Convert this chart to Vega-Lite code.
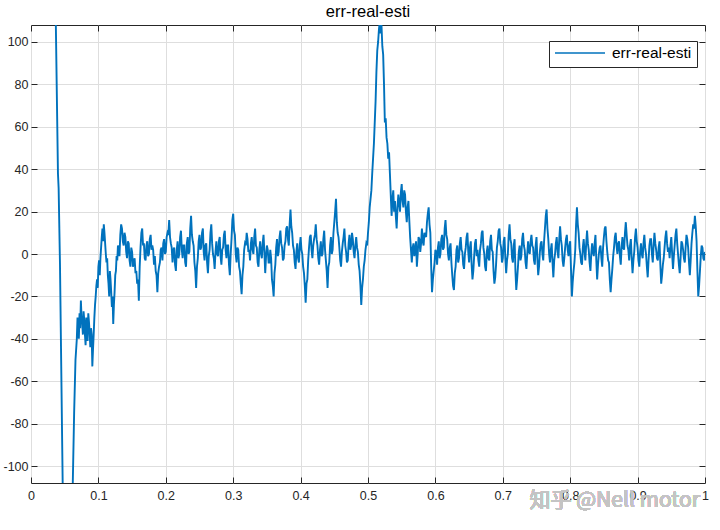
{
  "$schema": "https://vega.github.io/schema/vega-lite/v6.json",
  "autosize": {"type": "none"},
  "width": 674,
  "height": 458,
  "padding": {"left": 31, "top": 25, "right": 15, "bottom": 47},
  "background": "white",
  "title": {"text": "err-real-esti", "fontSize": 16.5, "fontWeight": "normal", "color": "#000000", "font": "Liberation Sans", "offset": 1},
  "config": {
    "font": "Liberation Sans",
    "view": {"stroke": "#262626", "strokeWidth": 1},
    "axis": {
      "domain": false,
      "tickColor": "#262626",
      "tickSize": -6,
      "labelColor": "#262626",
      "labelFontSize": 12.5,
      "labelFont": "Liberation Sans",
      "gridColor": "#dedede",
      "gridWidth": 1,
      "title": null
    }
  },
  "data": {"values": [
    {"x":0.0368,"y":109.5},{"x":0.04,"y":38},{"x":0.041,"y":31},{"x":0.043,"y":-5},{"x":0.047,"y":-108},{"x":0.0472,"y":-112},{"x":0.0618,"y":-112},{"x":0.062,"y":-108},{"x":0.064,"y":-75},{"x":0.066,"y":-50},{"x":0.068,"y":-40},{"x":0.069,"y":-30},{"x":0.07,"y":-34},{"x":0.071,"y":-40},{"x":0.072,"y":-28},{"x":0.073,"y":-35},{"x":0.074,"y":-22},{"x":0.075,"y":-30},{"x":0.076,"y":-33},{"x":0.077,"y":-38},{"x":0.078,"y":-27},{"x":0.079,"y":-31},{"x":0.08,"y":-38},{"x":0.081,"y":-43},{"x":0.082,"y":-30},{"x":0.083,"y":-35},{"x":0.084,"y":-41},{"x":0.085,"y":-28},{"x":0.086,"y":-32},{"x":0.087,"y":-37},{"x":0.088,"y":-44},{"x":0.089,"y":-35},{"x":0.09,"y":-38},{"x":0.091,"y":-53},{"x":0.092,"y":-45},{"x":0.093,"y":-38},{"x":0.094,"y":-30},{"x":0.095,"y":-24},{"x":0.096,"y":-20},{"x":0.097,"y":-15},{"x":0.098,"y":-12},{"x":0.099,"y":-16},{"x":0.1,"y":-6},{"x":0.101,"y":-3},{"x":0.102,"y":-10},{"x":0.103,"y":-2},{"x":0.104,"y":3},{"x":0.105,"y":8},{"x":0.106,"y":12},{"x":0.107,"y":6},{"x":0.108,"y":14},{"x":0.109,"y":10},{"x":0.11,"y":5},{"x":0.111,"y":0},{"x":0.112,"y":-4},{"x":0.113,"y":-2},{"x":0.114,"y":-10},{"x":0.115,"y":-14},{"x":0.116,"y":-20},{"x":0.117,"y":-8},{"x":0.118,"y":-12},{"x":0.119,"y":-18},{"x":0.12,"y":-25},{"x":0.121,"y":-20},{"x":0.122,"y":-33},{"x":0.123,"y":-24},{"x":0.124,"y":-18},{"x":0.125,"y":-10},{"x":0.126,"y":-8},{"x":0.127,"y":-1},{"x":0.128,"y":-3},{"x":0.129,"y":4},
    {"x":0.13,"y":2},{"x":0.13125,"y":-1},{"x":0.1325,"y":9},{"x":0.13375,"y":14},{"x":0.135,"y":12},{"x":0.13625,"y":6},{"x":0.1375,"y":4},{"x":0.13875,"y":10},{"x":0.14,"y":8},{"x":0.14125,"y":1},{"x":0.1425,"y":-2},{"x":0.14375,"y":6},{"x":0.145,"y":5},{"x":0.14625,"y":-3},{"x":0.1475,"y":-6},{"x":0.14875,"y":3},{"x":0.15,"y":1},{"x":0.15125,"y":-6},{"x":0.1525,"y":-4},{"x":0.15375,"y":-2},
    {"x":0.155,"y":-9},{"x":0.15625,"y":-8},{"x":0.1575,"y":-14},{"x":0.15875,"y":-12},{"x":0.16,"y":-22},{"x":0.16125,"y":-6},{"x":0.1625,"y":3},{"x":0.16375,"y":10},{"x":0.165,"y":12},{"x":0.16625,"y":4},{"x":0.1675,"y":5},{"x":0.16875,"y":-2},{"x":0.17,"y":-3},{"x":0.17125,"y":4},{"x":0.1725,"y":6},{"x":0.17375,"y":-1},{"x":0.175,"y":0},{"x":0.17625,"y":7},{"x":0.1775,"y":9},{"x":0.17875,"y":2},
    {"x":0.18,"y":4},{"x":0.18125,"y":2},{"x":0.1825,"y":-5},{"x":0.18375,"y":-1},{"x":0.185,"y":-8},{"x":0.18625,"y":-10},{"x":0.1875,"y":-18},{"x":0.18875,"y":-9},{"x":0.19,"y":-6},{"x":0.19125,"y":-4},{"x":0.1925,"y":2},{"x":0.19375,"y":3},{"x":0.195,"y":-3},{"x":0.19625,"y":5},{"x":0.1975,"y":7},{"x":0.19875,"y":0},{"x":0.2,"y":1},{"x":0.20125,"y":8},{"x":0.2025,"y":10},{"x":0.20375,"y":9},
    {"x":0.205,"y":16},{"x":0.20625,"y":8},{"x":0.2075,"y":5},{"x":0.20875,"y":3},{"x":0.21,"y":-4},{"x":0.21125,"y":2},{"x":0.2125,"y":3},{"x":0.21375,"y":-5},{"x":0.215,"y":-8},{"x":0.21625,"y":2},{"x":0.2175,"y":6},{"x":0.21875,"y":-2},{"x":0.22,"y":0},{"x":0.22125,"y":8},{"x":0.2225,"y":11},{"x":0.22375,"y":2},{"x":0.225,"y":-2},{"x":0.22625,"y":4},{"x":0.2275,"y":4},{"x":0.22875,"y":-4},
    {"x":0.23,"y":-6},{"x":0.23125,"y":5},{"x":0.2325,"y":8},{"x":0.23375,"y":0},{"x":0.235,"y":1},{"x":0.23625,"y":12},{"x":0.2375,"y":18},{"x":0.23875,"y":9},{"x":0.24,"y":6},{"x":0.24125,"y":4},{"x":0.2425,"y":-4},{"x":0.24375,"y":-8},{"x":0.245,"y":-16},{"x":0.24625,"y":-6},{"x":0.2475,"y":-2},{"x":0.24875,"y":6},{"x":0.25,"y":9},{"x":0.25125,"y":2},{"x":0.2525,"y":3},{"x":0.25375,"y":10},
    {"x":0.255,"y":12},{"x":0.25625,"y":1},{"x":0.2575,"y":-3},{"x":0.25875,"y":4},{"x":0.26,"y":5},{"x":0.26125,"y":-4},{"x":0.2625,"y":-9},{"x":0.26375,"y":-1},{"x":0.265,"y":2},{"x":0.26625,"y":10},{"x":0.2675,"y":14},{"x":0.26875,"y":5},{"x":0.27,"y":0},{"x":0.27125,"y":-2},{"x":0.2725,"y":-7},{"x":0.27375,"y":1},{"x":0.275,"y":6},{"x":0.27625,"y":0},{"x":0.2775,"y":-1},{"x":0.27875,"y":6},
    {"x":0.28,"y":8},{"x":0.28125,"y":-1},{"x":0.2825,"y":-5},{"x":0.28375,"y":2},{"x":0.285,"y":3},{"x":0.28625,"y":9},{"x":0.2875,"y":11},{"x":0.28875,"y":2},{"x":0.29,"y":-2},{"x":0.29125,"y":4},{"x":0.2925,"y":4},{"x":0.29375,"y":-5},{"x":0.295,"y":-10},{"x":0.29625,"y":0},{"x":0.2975,"y":7},{"x":0.29875,"y":16},{"x":0.3,"y":19},{"x":0.30125,"y":11},{"x":0.3025,"y":9},{"x":0.30375,"y":0},
    {"x":0.305,"y":-4},{"x":0.30625,"y":3},{"x":0.3075,"y":2},{"x":0.30875,"y":-6},{"x":0.31,"y":-8},{"x":0.31125,"y":-14},{"x":0.3125,"y":-19},{"x":0.31375,"y":-10},{"x":0.315,"y":-6},{"x":0.31625,"y":2},{"x":0.3175,"y":5},{"x":0.31875,"y":4},{"x":0.32,"y":10},{"x":0.32125,"y":7},{"x":0.3225,"y":1},{"x":0.32375,"y":2},{"x":0.325,"y":-3},{"x":0.32625,"y":5},{"x":0.3275,"y":8},{"x":0.32875,"y":2},
    {"x":0.33,"y":0},{"x":0.33125,"y":8},{"x":0.3325,"y":12},{"x":0.33375,"y":4},{"x":0.335,"y":3},{"x":0.33625,"y":-4},{"x":0.3375,"y":-6},{"x":0.33875,"y":2},{"x":0.34,"y":6},{"x":0.34125,"y":0},{"x":0.3425,"y":-2},{"x":0.34375,"y":5},{"x":0.345,"y":9},{"x":0.34625,"y":1},{"x":0.3475,"y":-9},{"x":0.34875,"y":-1},{"x":0.35,"y":4},{"x":0.35125,"y":2},{"x":0.3525,"y":-4},{"x":0.35375,"y":-4},
    {"x":0.355,"y":2},{"x":0.35625,"y":-2},{"x":0.3575,"y":-12},{"x":0.35875,"y":-15},{"x":0.36,"y":-20},{"x":0.36125,"y":-9},{"x":0.3625,"y":-5},{"x":0.36375,"y":3},{"x":0.365,"y":7},{"x":0.36625,"y":-1},{"x":0.3675,"y":1},{"x":0.36875,"y":8},{"x":0.37,"y":11},{"x":0.37125,"y":5},{"x":0.3725,"y":3},{"x":0.37375,"y":-3},{"x":0.375,"y":-2},{"x":0.37625,"y":4},{"x":0.3775,"y":6},{"x":0.37875,"y":12},
    {"x":0.38,"y":13},{"x":0.38125,"y":7},{"x":0.3825,"y":4},{"x":0.38375,"y":14},{"x":0.385,"y":21},{"x":0.38625,"y":13},{"x":0.3875,"y":10},{"x":0.38875,"y":4},{"x":0.39,"y":2},{"x":0.39125,"y":-4},{"x":0.3925,"y":-7},{"x":0.39375,"y":1},{"x":0.395,"y":5},{"x":0.39625,"y":-2},{"x":0.3975,"y":-4},{"x":0.39875,"y":4},{"x":0.4,"y":8},{"x":0.40125,"y":2},{"x":0.4025,"y":0},{"x":0.40375,"y":-6},
    {"x":0.405,"y":-9},{"x":0.40625,"y":-15},{"x":0.4075,"y":-23},{"x":0.40875,"y":-14},{"x":0.41,"y":-12},{"x":0.41125,"y":-3},{"x":0.4125,"y":3},{"x":0.41375,"y":8},{"x":0.415,"y":9},{"x":0.41625,"y":2},{"x":0.4175,"y":-2},{"x":0.41875,"y":4},{"x":0.42,"y":7},{"x":0.42125,"y":9},{"x":0.4225,"y":14},{"x":0.42375,"y":7},{"x":0.425,"y":4},{"x":0.42625,"y":-2},{"x":0.4275,"y":-5},{"x":0.42875,"y":2},
    {"x":0.43,"y":6},{"x":0.43125,"y":-1},{"x":0.4325,"y":0},{"x":0.43375,"y":7},{"x":0.435,"y":11},{"x":0.43625,"y":2},{"x":0.4375,"y":-3},{"x":0.43875,"y":-8},{"x":0.44,"y":-16},{"x":0.44125,"y":-6},{"x":0.4425,"y":-4},{"x":0.44375,"y":4},{"x":0.445,"y":8},{"x":0.44625,"y":0},{"x":0.4475,"y":2},{"x":0.44875,"y":10},{"x":0.45,"y":15},{"x":0.45125,"y":20},{"x":0.4525,"y":26},{"x":0.45375,"y":15},
    {"x":0.455,"y":10},{"x":0.45625,"y":8},{"x":0.4575,"y":3},{"x":0.45875,"y":-3},{"x":0.46,"y":-6},{"x":0.46125,"y":1},{"x":0.4625,"y":5},{"x":0.46375,"y":8},{"x":0.465,"y":12},{"x":0.46625,"y":4},{"x":0.4675,"y":1},{"x":0.46875,"y":-4},{"x":0.47,"y":-3},{"x":0.47125,"y":5},{"x":0.4725,"y":9},{"x":0.47375,"y":2},{"x":0.475,"y":4},{"x":0.47625,"y":10},{"x":0.4775,"y":7},{"x":0.47875,"y":1},
    {"x":0.48,"y":-2},{"x":0.48125,"y":4},{"x":0.4825,"y":8},{"x":0.48375,"y":3},{"x":0.485,"y":1},{"x":0.48625,"y":-5},{"x":0.4875,"y":-8},{"x":0.48875,"y":-15},{"x":0.49,"y":-24},{"x":0.49125,"y":-16},{"x":0.4925,"y":-12},{"x":0.49375,"y":-6},{"x":0.495,"y":-3},{"x":0.49625,"y":2},{"x":0.4975,"y":5},{"x":0.49875,"y":4},{"x":0.5,"y":10},{"x":0.50125,"y":15},{"x":0.5025,"y":22},{"x":0.50375,"y":26},
    {"x":0.505,"y":30},{"x":0.50625,"y":38},{"x":0.5075,"y":45},{"x":0.50875,"y":52},{"x":0.51,"y":62},{"x":0.51125,"y":72},{"x":0.5125,"y":86},{"x":0.51375,"y":96},{"x":0.515,"y":100},{"x":0.51625,"y":106},{"x":0.5175,"y":109.5},{"x":0.51875,"y":104},{"x":0.52,"y":108},{"x":0.52125,"y":98},{"x":0.5225,"y":94},{"x":0.52375,"y":80},{"x":0.525,"y":62},{"x":0.52625,"y":64},{"x":0.5275,"y":55},{"x":0.52875,"y":52},
    {"x":0.53,"y":45},{"x":0.53125,"y":48},{"x":0.5325,"y":38},{"x":0.53375,"y":28},{"x":0.535,"y":18},{"x":0.53625,"y":26},{"x":0.5375,"y":30},{"x":0.53875,"y":20},{"x":0.54,"y":25},{"x":0.54125,"y":18},{"x":0.5425,"y":12},{"x":0.54375,"y":22},{"x":0.545,"y":28},{"x":0.54625,"y":24},{"x":0.5475,"y":20},{"x":0.54875,"y":29},{"x":0.55,"y":33},{"x":0.55125,"y":25},{"x":0.5525,"y":22},{"x":0.55375,"y":30},
    {"x":0.555,"y":28},{"x":0.55625,"y":20},{"x":0.5575,"y":15},{"x":0.55875,"y":22},{"x":0.56,"y":25},{"x":0.56125,"y":16},{"x":0.5625,"y":8},{"x":0.56375,"y":2},{"x":0.565,"y":-4},{"x":0.56625,"y":3},{"x":0.5675,"y":5},{"x":0.56875,"y":-1},
    {"x":0.57,"y":2},{"x":0.57125,"y":6},{"x":0.5725,"y":-6},{"x":0.57375,"y":0},{"x":0.575,"y":8},{"x":0.57625,"y":7},{"x":0.5775,"y":1},{"x":0.57875,"y":5},{"x":0.58,"y":12},{"x":0.58125,"y":6},{"x":0.5825,"y":4},{"x":0.58375,"y":10},{"x":0.585,"y":9},{"x":0.58625,"y":8},{"x":0.5875,"y":15},{"x":0.58875,"y":19},{"x":0.59,"y":22},{"x":0.59125,"y":14},{"x":0.5925,"y":10},{"x":0.59375,"y":-6},
    {"x":0.595,"y":-18},{"x":0.59625,"y":-12},{"x":0.5975,"y":-8},{"x":0.59875,"y":-4},{"x":0.6,"y":2},{"x":0.60125,"y":1},{"x":0.6025,"y":-5},{"x":0.60375,"y":3},{"x":0.605,"y":6},{"x":0.60625,"y":-2},{"x":0.6075,"y":0},{"x":0.60875,"y":7},{"x":0.61,"y":9},{"x":0.61125,"y":2},{"x":0.6125,"y":3},{"x":0.61375,"y":12},{"x":0.615,"y":16},{"x":0.61625,"y":9},{"x":0.6175,"y":7},{"x":0.61875,"y":0},
    {"x":0.62,"y":-3},{"x":0.62125,"y":3},{"x":0.6225,"y":5},{"x":0.62375,"y":-4},{"x":0.625,"y":-10},{"x":0.62625,"y":-15},{"x":0.6275,"y":-17},{"x":0.62875,"y":-9},{"x":0.63,"y":-6},{"x":0.63125,"y":2},{"x":0.6325,"y":4},{"x":0.63375,"y":-4},{"x":0.635,"y":-2},{"x":0.63625,"y":5},{"x":0.6375,"y":8},{"x":0.63875,"y":2},{"x":0.64,"y":1},{"x":0.64125,"y":-5},{"x":0.6425,"y":-7},{"x":0.64375,"y":0},
    {"x":0.645,"y":3},{"x":0.64625,"y":8},{"x":0.6475,"y":10},{"x":0.64875,"y":1},{"x":0.65,"y":-4},{"x":0.65125,"y":3},{"x":0.6525,"y":6},{"x":0.65375,"y":-5},{"x":0.655,"y":-12},{"x":0.65625,"y":-8},{"x":0.6575,"y":-1},{"x":0.65875,"y":5},{"x":0.66,"y":7},{"x":0.66125,"y":-1},{"x":0.6625,"y":2},{"x":0.66375,"y":-3},{"x":0.665,"y":-6},{"x":0.66625,"y":2},{"x":0.6675,"y":5},{"x":0.66875,"y":10},
    {"x":0.67,"y":11},{"x":0.67125,"y":3},{"x":0.6725,"y":0},{"x":0.67375,"y":-6},{"x":0.675,"y":-8},{"x":0.67625,"y":1},{"x":0.6775,"y":4},{"x":0.67875,"y":-2},{"x":0.68,"y":-3},{"x":0.68125,"y":6},{"x":0.6825,"y":9},{"x":0.68375,"y":2},{"x":0.685,"y":1},{"x":0.68625,"y":-8},{"x":0.6875,"y":-14},{"x":0.68875,"y":-11},{"x":0.69,"y":-5},{"x":0.69125,"y":3},{"x":0.6925,"y":6},{"x":0.69375,"y":11},
    {"x":0.695,"y":12},{"x":0.69625,"y":5},{"x":0.6975,"y":3},{"x":0.69875,"y":-4},{"x":0.7,"y":-2},{"x":0.70125,"y":6},{"x":0.7025,"y":8},{"x":0.70375,"y":-2},{"x":0.705,"y":-9},{"x":0.70625,"y":-3},{"x":0.7075,"y":0},{"x":0.70875,"y":9},{"x":0.71,"y":14},{"x":0.71125,"y":7},{"x":0.7125,"y":5},{"x":0.71375,"y":-2},{"x":0.715,"y":-4},{"x":0.71625,"y":4},{"x":0.7175,"y":7},{"x":0.71875,"y":-8},
    {"x":0.72,"y":-17},{"x":0.72125,"y":-12},{"x":0.7225,"y":-6},{"x":0.72375,"y":1},{"x":0.725,"y":4},{"x":0.72625,"y":-3},{"x":0.7275,"y":-1},{"x":0.72875,"y":7},{"x":0.73,"y":10},{"x":0.73125,"y":4},{"x":0.7325,"y":2},{"x":0.73375,"y":-4},{"x":0.735,"y":-7},{"x":0.73625,"y":0},{"x":0.7375,"y":6},{"x":0.73875,"y":1},{"x":0.74,"y":0},{"x":0.74125,"y":6},{"x":0.7425,"y":9},{"x":0.74375,"y":4},
    {"x":0.745,"y":3},{"x":0.74625,"y":-3},{"x":0.7475,"y":-5},{"x":0.74875,"y":4},{"x":0.75,"y":8},{"x":0.75125,"y":-2},{"x":0.7525,"y":-10},{"x":0.75375,"y":-6},{"x":0.755,"y":1},{"x":0.75625,"y":5},{"x":0.7575,"y":6},{"x":0.75875,"y":0},{"x":0.76,"y":-3},{"x":0.76125,"y":6},{"x":0.7625,"y":12},{"x":0.76375,"y":18},{"x":0.765,"y":21},{"x":0.76625,"y":12},{"x":0.7675,"y":7},{"x":0.76875,"y":0},
    {"x":0.77,"y":-4},{"x":0.77125,"y":2},{"x":0.7725,"y":5},{"x":0.77375,"y":-4},{"x":0.775,"y":-11},{"x":0.77625,"y":-3},{"x":0.7775,"y":0},{"x":0.77875,"y":5},{"x":0.78,"y":8},{"x":0.78125,"y":1},{"x":0.7825,"y":-2},{"x":0.78375,"y":7},{"x":0.785,"y":13},{"x":0.78625,"y":7},{"x":0.7875,"y":4},{"x":0.78875,"y":-3},{"x":0.79,"y":-6},{"x":0.79125,"y":-2},{"x":0.7925,"y":3},{"x":0.79375,"y":7},
    {"x":0.795,"y":9},{"x":0.79625,"y":2},{"x":0.7975,"y":-1},{"x":0.79875,"y":4},{"x":0.8,"y":6},{"x":0.80125,"y":-8},{"x":0.8025,"y":-20},{"x":0.80375,"y":-13},{"x":0.805,"y":-8},{"x":0.80625,"y":-4},{"x":0.8075,"y":2},{"x":0.80875,"y":14},{"x":0.81,"y":22},{"x":0.81125,"y":14},{"x":0.8125,"y":10},{"x":0.81375,"y":3},{"x":0.815,"y":0},{"x":0.81625,"y":-4},{"x":0.8175,"y":-5},{"x":0.81875,"y":3},
    {"x":0.82,"y":7},{"x":0.82125,"y":1},{"x":0.8225,"y":-3},{"x":0.82375,"y":5},{"x":0.825,"y":11},{"x":0.82625,"y":5},{"x":0.8275,"y":2},{"x":0.82875,"y":-4},{"x":0.83,"y":-8},{"x":0.83125,"y":0},{"x":0.8325,"y":5},{"x":0.83375,"y":1},{"x":0.835,"y":-1},{"x":0.83625,"y":5},{"x":0.8375,"y":9},{"x":0.83875,"y":-3},{"x":0.84,"y":-12},{"x":0.84125,"y":-5},{"x":0.8425,"y":0},{"x":0.84375,"y":3},
    {"x":0.845,"y":4},{"x":0.84625,"y":-2},{"x":0.8475,"y":-6},{"x":0.84875,"y":3},{"x":0.85,"y":8},{"x":0.85125,"y":12},{"x":0.8525,"y":13},{"x":0.85375,"y":6},{"x":0.855,"y":1},{"x":0.85625,"y":-3},{"x":0.8575,"y":-4},{"x":0.85875,"y":-12},{"x":0.86,"y":-18},{"x":0.86125,"y":-12},{"x":0.8625,"y":-7},{"x":0.86375,"y":-1},{"x":0.865,"y":3},{"x":0.86625,"y":8},{"x":0.8675,"y":10},{"x":0.86875,"y":4},
    {"x":0.87,"y":0},{"x":0.87125,"y":5},{"x":0.8725,"y":6},{"x":0.87375,"y":-1},{"x":0.875,"y":-5},{"x":0.87625,"y":3},{"x":0.8775,"y":8},{"x":0.87875,"y":3},{"x":0.88,"y":2},{"x":0.88125,"y":10},{"x":0.8825,"y":15},{"x":0.88375,"y":9},{"x":0.885,"y":4},{"x":0.88625,"y":2},{"x":0.8875,"y":-3},{"x":0.88875,"y":4},{"x":0.89,"y":7},{"x":0.89125,"y":-2},{"x":0.8925,"y":-9},{"x":0.89375,"y":-3},
    {"x":0.895,"y":1},{"x":0.89625,"y":8},{"x":0.8975,"y":12},{"x":0.89875,"y":6},{"x":0.9,"y":3},{"x":0.90125,"y":-3},{"x":0.9025,"y":-6},{"x":0.90375,"y":1},{"x":0.905,"y":5},{"x":0.90625,"y":0},{"x":0.9075,"y":-2},{"x":0.90875,"y":5},{"x":0.91,"y":9},{"x":0.91125,"y":3},{"x":0.9125,"y":0},{"x":0.91375,"y":-6},{"x":0.915,"y":-11},{"x":0.91625,"y":-3},{"x":0.9175,"y":4},{"x":0.91875,"y":7},
    {"x":0.92,"y":7},{"x":0.92125,"y":0},{"x":0.9225,"y":-4},{"x":0.92375,"y":4},{"x":0.925,"y":10},{"x":0.92625,"y":5},{"x":0.9275,"y":2},{"x":0.92875,"y":-2},{"x":0.93,"y":-3},{"x":0.93125,"y":3},{"x":0.9325,"y":6},{"x":0.93375,"y":-5},{"x":0.935,"y":-14},{"x":0.93625,"y":-10},{"x":0.9375,"y":-5},{"x":0.93875,"y":-2},{"x":0.94,"y":3},{"x":0.94125,"y":8},{"x":0.9425,"y":11},{"x":0.94375,"y":5},
    {"x":0.945,"y":1},{"x":0.94625,"y":3},{"x":0.9475,"y":-2},{"x":0.94875,"y":4},{"x":0.95,"y":8},{"x":0.95125,"y":0},{"x":0.9525,"y":-7},{"x":0.95375,"y":-1},{"x":0.955,"y":4},{"x":0.95625,"y":9},{"x":0.9575,"y":12},{"x":0.95875,"y":5},{"x":0.96,"y":0},{"x":0.96125,"y":-5},{"x":0.9625,"y":-9},{"x":0.96375,"y":-2},{"x":0.965,"y":6},{"x":0.96625,"y":5},{"x":0.9675,"y":2},{"x":0.96875,"y":-2},
    {"x":0.97,"y":-4},{"x":0.97125,"y":3},{"x":0.9725,"y":9},{"x":0.97375,"y":7},{"x":0.975,"y":3},{"x":0.97625,"y":-4},{"x":0.9775,"y":-10},{"x":0.97875,"y":-3},{"x":0.98,"y":5},{"x":0.98125,"y":10},{"x":0.9825,"y":14},{"x":0.98375,"y":12},{"x":0.985,"y":18},{"x":0.98625,"y":13},{"x":0.9875,"y":6},{"x":0.98875,"y":-8},{"x":0.99,"y":-20},{"x":0.99125,"y":-15},{"x":0.9925,"y":-8},{"x":0.99375,"y":-1},
    {"x":0.995,"y":4},{"x":0.99625,"y":3},{"x":0.9975,"y":-2},{"x":0.99875,"y":-3},{"x":1.0,"y":1}
  ]},
  "resolve": {"axis": {"x": "independent", "y": "independent"}},
  "layer": [
    {
      "mark": {"type": "line", "clip": true, "strokeWidth": 1.9, "interpolate": "linear"},
      "encoding": {
        "x": {"field": "x", "type": "quantitative", "scale": {"domain": [0, 1], "nice": false},
              "axis": {"orient": "bottom", "values": [0,0.1,0.2,0.3,0.4,0.5,0.6,0.7,0.8,0.9,1], "labelExpr": "'' + datum.value", "grid": true, "labelPadding": 12, "labelFlush": false}},
        "y": {"field": "y", "type": "quantitative", "scale": {"domain": [-108, 108], "nice": false, "zero": false},
              "axis": {"orient": "left", "values": [-100,-80,-60,-40,-20,0,20,40,60,80,100], "labelExpr": "'' + datum.value", "grid": true, "labelPadding": 9}},
        "color": {"datum": "err-real-esti", "type": "nominal", "scale": {"range": ["#0072BD"]},
                  "legend": {"title": null, "orient": "none", "legendX": 518, "legendY": 16, "strokeColor": "#262626", "fillColor": "white", "padding": 5, "symbolType": "stroke", "symbolSize": 2500, "clipHeight": 14, "symbolStrokeWidth": 1.5, "labelFontSize": 15.5, "labelColor": "#000000", "labelOffset": 6, "labelFont": "Liberation Sans"}}
      }
    },
    {
      "mark": {"type": "line", "opacity": 0},
      "encoding": {
        "x": {"field": "x", "type": "quantitative", "axis": {"orient": "top", "values": [0,0.1,0.2,0.3,0.4,0.5,0.6,0.7,0.8,0.9,1], "labels": false, "grid": false}},
        "y": {"field": "y", "type": "quantitative", "axis": {"orient": "right", "values": [-100,-80,-60,-40,-20,0,20,40,60,80,100], "labels": false, "grid": false}}
      }
    },
    {
      "mark": {"type": "text", "clip": false, "fontSize": 21, "color": "#c4c4c4", "opacity": 0.8, "font": "Noto Sans CJK SC"},
      "encoding": {
        "x": {"datum": 0.866, "axis": null},
        "y": {"datum": -116.5, "axis": null},
        "text": {"value": "知乎 @Nell motor"}
      }
    }
  ]
}
